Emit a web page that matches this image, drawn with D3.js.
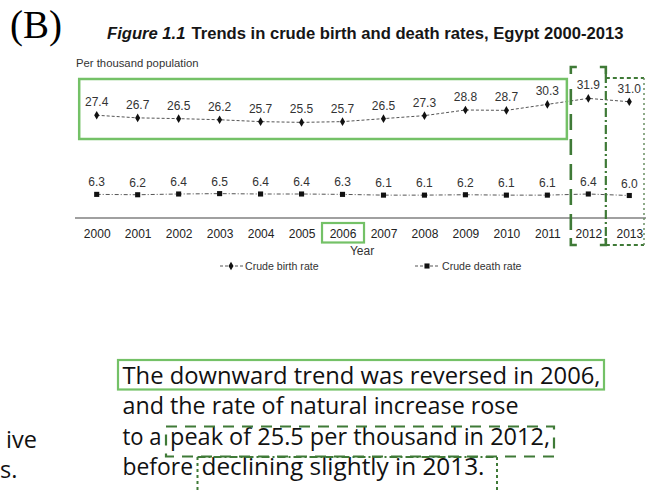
<!DOCTYPE html>
<html><head><meta charset="utf-8">
<script src="https://cdn.jsdelivr.net/npm/d3@7"></script>
<style>html,body{margin:0;padding:0;background:#fff;}svg{display:block;}</style>
</head><body>
<svg id="c" width="646" height="490"></svg>
<script>
const years = ["2000","2001","2002","2003","2004","2005","2006","2007","2008","2009","2010","2011","2012","2013"];
const birthRate = [27.4,26.7,26.5,26.2,25.7,25.5,25.7,26.5,27.3,28.8,28.7,30.3,31.9,31.0];
const deathRate = [6.3,6.2,6.4,6.5,6.4,6.4,6.3,6.1,6.1,6.2,6.1,6.1,6.4,6.0];
const seriesNames = ["Crude birth rate","Crude death rate"];
const titleItalic = "Figure 1.1";
const titleMain = "Trends in crude birth and death rates, Egypt 2000-2013";
const yAxisLabel = "Per thousand population";
const xAxisLabel = "Year";
const captionLines = ["The downward trend was reversed in 2006,","and the rate of natural increase rose","to a peak of 25.5 per thousand in 2012,","before declining slightly in 2013."];
const sideText = ["ive","s."];

const svg = d3.select("#c");
const x = d3.scalePoint().domain(years).range([96.7, 629.3]);
const y = d3.scaleLinear().domain([0, 35]).range([218, 218 - 35*3.75]);
const AR = "'Liberation Sans', Arial, sans-serif";
const lightGreen = "#74c167", darkGreen = "#3f7a37";

// (B)
svg.append("text").attr("x",10).attr("y",38).attr("font-family","'Liberation Serif', 'Times New Roman', serif")
  .attr("font-size",39).attr("fill","#000").text("(B)");

// Title
const title = svg.append("text").attr("x",107).attr("y",39).attr("font-family",AR).attr("font-weight","bold").attr("font-size",15).attr("fill","#161616");
title.append("tspan").attr("font-style","italic").text(titleItalic);
title.append("tspan").attr("dx",6).text(titleMain);
const tw = title.node().getComputedTextLength();
title.attr("font-size", 15*511/tw);

svg.append("text").attr("x",76).attr("y",67).attr("font-family",AR).attr("font-size",11.3).attr("fill","#333").text(yAxisLabel);

// baseline axis line
svg.append("line").attr("x1",75).attr("x2",646).attr("y1",y(0)).attr("y2",y(0)).attr("stroke","#808080").attr("stroke-width",1.5);

// x axis labels
const xAxis = d3.axisBottom(x).tickSize(0).tickPadding(0);
const gx = svg.append("g").attr("transform",`translate(0,${y(0)})`).call(xAxis);
gx.select(".domain").remove();
gx.selectAll("text").attr("font-family",AR).attr("font-size",12).attr("fill","#222").attr("dy",null).attr("y",20);

svg.append("text").attr("x",362).attr("y",255).attr("text-anchor","middle").attr("font-family",AR).attr("font-size",12).attr("fill","#333").text(xAxisLabel);

// lines
const birthData = years.map((yr,i)=>({yr, v:birthRate[i]}));
const deathData = years.map((yr,i)=>({yr, v:deathRate[i]}));
const line = d3.line().x(d=>x(d.yr)).y(d=>y(d.v));
svg.append("path").datum(birthData).attr("d",line).attr("fill","none").attr("stroke","#555").attr("stroke-width",1).attr("stroke-dasharray","3,2");
svg.append("path").datum(deathData).attr("d",line).attr("fill","none").attr("stroke","#555").attr("stroke-width",1).attr("stroke-dasharray","4,2,1,2");

const diamond = d3.symbol().type(d3.symbolDiamond).size(22);
const square = d3.symbol().type(d3.symbolSquare).size(26);
svg.append("g").selectAll("path").data(birthData).join("path").attr("d",diamond)
  .attr("transform",d=>`translate(${x(d.yr)},${y(d.v)})`).attr("fill","#111");
svg.append("g").selectAll("path").data(deathData).join("path").attr("d",square)
  .attr("transform",d=>`translate(${x(d.yr)},${y(d.v)})`).attr("fill","#111");

svg.append("g").selectAll("text").data(birthData).join("text")
  .attr("x",d=>x(d.yr)).attr("y",d=>y(d.v)-9).attr("text-anchor","middle")
  .attr("font-family",AR).attr("font-size",12).attr("fill","#333").text(d=>d.v.toFixed(1));
svg.append("g").selectAll("text").data(deathData).join("text")
  .attr("x",d=>x(d.yr)).attr("y",d=>y(d.v)-8).attr("text-anchor","middle")
  .attr("font-family",AR).attr("font-size",12).attr("fill","#333").text(d=>d.v.toFixed(1));

// legend
const lg = svg.append("g").attr("font-family",AR).attr("font-size",10.6).attr("fill","#333");
lg.append("line").attr("x1",220).attr("x2",243).attr("y1",266).attr("y2",266).attr("stroke","#555").attr("stroke-dasharray","3,2");
lg.append("path").attr("d",diamond).attr("transform","translate(231,266)").attr("fill","#111");
lg.append("text").attr("x",245).attr("y",270).text(seriesNames[0]);
lg.append("line").attr("x1",415).attr("x2",440).attr("y1",266).attr("y2",266).attr("stroke","#555").attr("stroke-dasharray","3,2");
lg.append("path").attr("d",square).attr("transform","translate(427,266)").attr("fill","#111");
lg.append("text").attr("x",442).attr("y",270).text(seriesNames[1]);

// highlight boxes in chart
svg.append("rect").attr("x",x("2000")-17.5).attr("y",79).attr("width",x("2011")-x("2000")+37).attr("height",60)
  .attr("fill","none").attr("stroke",lightGreen).attr("stroke-width",2.5);
svg.append("rect").attr("x",x("2006")-20.5).attr("y",223).attr("width",42).attr("height",19.5)
  .attr("fill","none").attr("stroke",lightGreen).attr("stroke-width",2.2);

// 2012 dashed bracket box
const b12l = x("2012")-17.5, b12r = x("2012")+17.5, bt = 67, bb = 245;
const dg = svg.append("g").attr("stroke",darkGreen).attr("stroke-width",2.6).attr("fill","none");
dg.append("path").attr("d",`M${b12l},${bt+7}V${bt}H${b12l+6}M${b12r-6},${bt}H${b12r}V${bt+7}`);
dg.append("path").attr("d",`M${b12l},${bb-7}V${bb}H${b12l+6}M${b12r-6},${bb}H${b12r}V${bb-7}`);
dg.append("line").attr("x1",b12l).attr("x2",b12l).attr("y1",bt+22).attr("y2",bb-12).attr("stroke-dasharray","16,9");
// 2013 box
const b13l = b12r, b13r = 644, b13t = 78;
dg.append("line").attr("x1",b13l).attr("x2",b13l).attr("y1",bt+7).attr("y2",bb).attr("stroke-dasharray","9,3,2,3").attr("stroke-width",2.2);
dg.append("line").attr("x1",b13l).attr("x2",b13r).attr("y1",b13t).attr("y2",b13t).attr("stroke-dasharray","4,3").attr("stroke-width",2.2);
dg.append("line").attr("x1",b13l).attr("x2",b13r).attr("y1",bb).attr("y2",bb).attr("stroke-dasharray","4,3").attr("stroke-width",2.2);
dg.append("line").attr("x1",b13r).attr("x2",b13r).attr("y1",b13t).attr("y2",bb).attr("stroke-dasharray","2,3").attr("stroke-width",1.5).attr("stroke","#6a8f63");

// caption text (condensed to mimic a narrow humanist face)
const OS = "'Open Sans', 'Noto Sans', sans-serif";
const FS = 23.5;
const baselines = [384,414,445,475];
// split lines 3 and 4 after their first word group so each part sits inside its box
const capSegments = [
  [captionLines[0]],
  [captionLines[1]],
  [captionLines[2].slice(0,4), captionLines[2].slice(5)],
  [captionLines[3].slice(0,6), captionLines[3].slice(7)]
];
const segLayout = [
  [[122.5,478]],
  [[122.5,396]],
  [[122.5,39],[170,380]],
  [[122.5,70.5],[201.5,283]]
];
const cap = svg.append("g").attr("font-family",OS).attr("fill","#111").attr("font-size",FS);
capSegments.forEach((segs,li)=>{
  segs.forEach((s,si)=>{
    const [sx,sw] = segLayout[li][si];
    cap.append("text").attr("x",sx).attr("y",baselines[li]).text(s)
      .attr("textLength",sw).attr("lengthAdjust","spacingAndGlyphs");
  });
});
const k = 478/cap.select("text").node().getComputedTextLength();
const side = svg.append("g").attr("font-family",OS).attr("fill","#111").selectAll("text").data(sideText).join("text")
  .attr("x",(d,i)=>i===0?6:0).attr("y",(d,i)=>[448,478][i]).attr("font-size",FS).text(d=>d);

// caption boxes
svg.append("rect").attr("x",118).attr("y",360).attr("width",486).attr("height",29.5)
  .attr("fill","none").attr("stroke",lightGreen).attr("stroke-width",2.2);
svg.append("rect").attr("x",166).attr("y",426.5).attr("width",388).attr("height",30)
  .attr("fill","none").attr("stroke",darkGreen).attr("stroke-width",2.2).attr("stroke-dasharray","11,8");
const cg = svg.append("g").attr("stroke",darkGreen).attr("fill","none").attr("stroke-width",2);
cg.append("line").attr("x1",197.5).attr("x2",497).attr("y1",457).attr("y2",457).attr("stroke-dasharray","8,3,2,3");
cg.append("line").attr("x1",197.5).attr("x2",197.5).attr("y1",457).attr("y2",490).attr("stroke-dasharray","3,3");
cg.append("line").attr("x1",497).attr("x2",497).attr("y1",457).attr("y2",490).attr("stroke-dasharray","3,3");
</script>
</body></html>
